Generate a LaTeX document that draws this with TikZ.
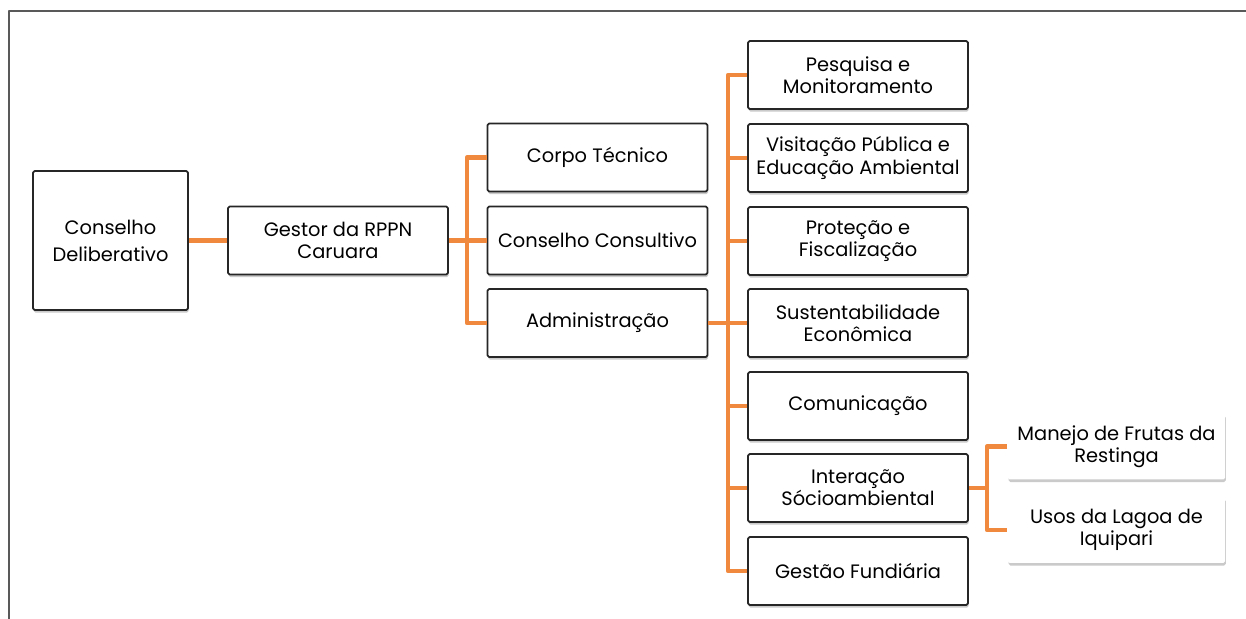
\documentclass[tikz,border=0pt]{standalone}
\usepackage{fontspec}
\setmainfont{Poppins}
\usetikzlibrary{shadows}

\definecolor{laranja}{RGB}{240,137,62}
\tikzset{
  caixa/.style={draw=black!85,line width=1.3pt,fill=white,rounded corners=1.2pt,
    minimum width=5.5cm,minimum height=1.7cm,align=center,inner sep=1pt,
    font=\fontsize{13.8}{15.8}\selectfont,
    drop shadow={shadow xshift=0.5pt,shadow yshift=-1.8pt,opacity=0.35,fill=black!60}},
  caixaleve/.style={caixa,draw=none,minimum width=5.43cm,minimum height=1.65cm},
  ramo/.style={draw=laranja,line width=3.4pt}
}

\begin{document}
\begin{tikzpicture}[line join=round]
  \useasboundingbox (0,0) rectangle (31.15,15.475);
  % moldura
  \draw[line width=1.3pt,black!65] (0.225,0) -- (0.225,15.2) -- (31.15,15.2);
  % niveis 1 e 2
  \node[caixa,minimum width=3.875cm,minimum height=3.475cm] (delib) at (2.7625,9.4625) {Conselho\\[3.5pt]Deliberativo};
  \node[caixa] (gestor) at (8.45,9.4625) {Gestor da RPPN\\Caruara};
  \node[caixa] (corpo) at (14.9375,11.5375) {Corpo Técnico};
  \node[caixa] (consult) at (14.9375,9.4625) {Conselho Consultivo};
  \node[caixa] (admin) at (14.9375,7.4) {Administração};
  % setores da administracao
  \node[caixa] (pesq) at (21.45,13.6) {Pesquisa e\\Monitoramento};
  \node[caixa] (visit) at (21.45,11.525) {Visitação Pública e\\Educação Ambiental};
  \node[caixa] (prot) at (21.45,9.45) {Proteção e\\Fiscalização};
  \node[caixa] (sust) at (21.45,7.4) {Sustentabilidade\\Econômica};
  \node[caixa] (comun) at (21.45,5.325) {Comunicação};
  \node[caixa] (inter) at (21.45,3.275) {Interação\\Sócioambiental};
  \node[caixa] (fund) at (21.45,1.2) {Gestão Fundiária};
  % projetos
  \node[caixaleve] (frutas) at (27.9125,4.3125) {Manejo de Frutas da\\Restinga};
  \node[caixaleve] (lagoa) at (27.9125,2.225) {Usos da Lagoa de\\Iquipari};
  % ligacoes
  \coordinate (barraA) at (11.675,9.4625);
  \coordinate (barraB) at (18.2,7.4);
  \coordinate (barraC) at (24.675,3.275);
  \draw[ramo] (delib) -- (gestor);
  \draw[ramo] (gestor) -- (consult);
  \draw[ramo] (corpo.west) -| (barraA) |- (admin.west);
  \draw[ramo] (admin) -- (sust);
  \draw[ramo] (pesq.west) -| (barraB) |- (fund.west);
  \foreach \s in {visit,prot,comun,inter} {
    \draw[ramo] (\s.west) -- (\s.west -| barraB);
  }
  \draw[ramo] (inter) -- (barraC);
  \draw[ramo] (frutas.west) -| (barraC) |- (lagoa.west);
\end{tikzpicture}
\end{document}
